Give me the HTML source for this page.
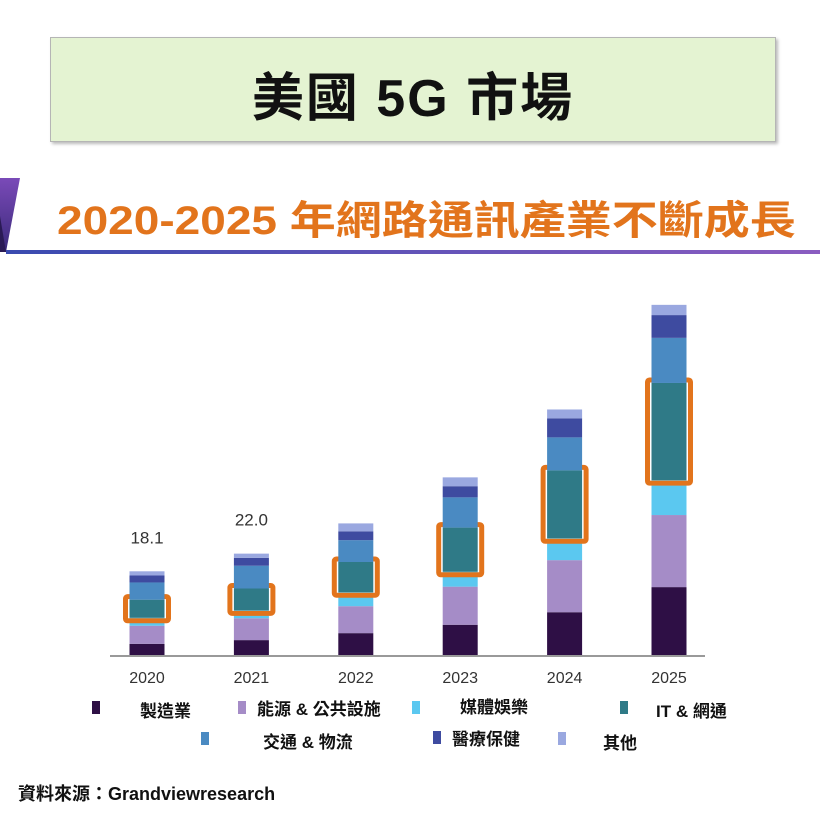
<!DOCTYPE html>
<html><head><meta charset="utf-8"><style>
body{margin:0;width:820px;height:820px;background:#fff;overflow:hidden;position:relative;font-family:"Liberation Sans","Noto Sans CJK TC",sans-serif}
.t{position:absolute;font-weight:bold;white-space:nowrap}
.lg{position:absolute;font-weight:bold;font-size:17px;color:#111;white-space:nowrap}
.sq{position:absolute;width:8px;height:13px}
</style></head><body>
<div style="position:absolute;left:50px;top:37px;width:724px;height:103px;background:#e4f3d2;border:1px solid #b5b5b5;box-shadow:2px 2px 3px #bbb"></div>
<div class="t" style="left:50px;width:726px;text-align:center;top:56px;font-size:52px;color:#111;letter-spacing:2px">美國 5G 市場</div>
<svg style="position:absolute;left:0;top:176px" width="820" height="82">
<defs><linearGradient id="g" x1="0" x2="1"><stop offset="0" stop-color="#3a4bb0"/><stop offset="1" stop-color="#8a5cc0"/></linearGradient>
<linearGradient id="p" x1="0" x2="0" y1="0" y2="1"><stop offset="0" stop-color="#7a4ab8"/><stop offset="1" stop-color="#3a2a7a"/></linearGradient></defs>
<polygon points="0,2 20,2 6,76 0,76" fill="url(#p)"/>
<polygon points="0,40 6,76 0,76" fill="#2a1a55"/>
<rect x="6" y="74" width="814" height="4" fill="url(#g)"/>
</svg>
<div class="t" style="left:57px;top:188px;font-size:40px;color:#e2741c;transform:scaleX(1.15);transform-origin:left center">2020-2025 年網路通訊產業不斷成長</div>
<svg id="chart" style="position:absolute;left:0;top:0" width="820" height="820"></svg>
<div class="sq" style="left:92px;top:701px;background:#2e0f45"></div>
<div class="lg" style="left:140px;top:697px">製造業</div>
<div class="sq" style="left:238px;top:701px;background:#a58cc7"></div>
<div class="lg" style="left:257px;top:695px">能源 &amp; 公共設施</div>
<div class="sq" style="left:412px;top:701px;background:#5bc8f0"></div>
<div class="lg" style="left:460px;top:693px">媒體娛樂</div>
<div class="sq" style="left:620px;top:701px;background:#2f7a87"></div>
<div class="lg" style="left:656px;top:697px">IT &amp; 網通</div>
<div class="sq" style="left:201px;top:732px;background:#4a8ac2"></div>
<div class="lg" style="left:263px;top:728px">交通 &amp; 物流</div>
<div class="sq" style="left:433px;top:731px;background:#3e4ba0"></div>
<div class="lg" style="left:452px;top:725px">醫療保健</div>
<div class="sq" style="left:558px;top:732px;background:#9aa8e0"></div>
<div class="lg" style="left:603px;top:729px">其他</div>
<div class="lg" style="left:18px;top:780px;font-size:18px">資料來源：Grandviewresearch</div>
<script>
const years=["2020","2021","2022","2023","2024","2025"];
const manufacturing=[2.4,3.2,4.7,6.5,9.2,14.6];
const energy=[3.9,4.7,5.8,8.2,11.2,15.5];
const media=[1.7,1.7,3.0,3.2,4.7,7.5];
const itNet=[3.9,4.7,6.5,9.5,14.6,20.9];
const transport=[3.7,4.9,4.7,6.5,7.1,9.7];
const health=[1.5,1.7,1.9,2.4,4.1,4.9];
const other=[0.9,0.9,1.7,1.9,1.9,2.2];
const totalLabels=["18.1","22.0","","","",""];
const series=[manufacturing,energy,media,itNet,transport,health,other];
const names=["manufacturing","energy","media","it","transport","health","other"];
const colors=["#2e0f45","#a58cc7","#5bc8f0","#2f7a87","#4a8ac2","#3e4ba0","#9aa8e0"];
const base=655,k=4.65,x0=147,step=104.4,bw=35;
const y=v=>base-v*k, xc=i=>x0+i*step;
const svg=document.getElementById('chart'),NS="http://www.w3.org/2000/svg";
function mk(t,a){const e=document.createElementNS(NS,t);for(const q in a)e.setAttribute(q,a[q]);svg.appendChild(e);return e;}
const ax=mk('line',{x1:110,x2:705,y1:base+1,y2:base+1,stroke:'#999','stroke-width':2});


years.forEach((yr,i)=>{
  let cum=0;
  series.forEach((s,j)=>{
    const r=mk('rect',{x:xc(i)-bw/2,y:y(cum+s[i]),width:bw,height:s[i]*k,fill:colors[j]});
    
    
    if(j===3){
      const b=mk('rect',{x:xc(i)-bw/2-4,y:y(cum+s[i])-3,width:bw+8,height:s[i]*k+6,fill:'none',stroke:'#e2741c','stroke-width':5,rx:2});
      
      
    }
    cum+=s[i];
  });
  const t=mk('text',{x:xc(i),y:base+28,'text-anchor':'middle','font-size':16,fill:'#333','font-family':'Liberation Sans Narrow, Liberation Sans, sans-serif'});
  t.textContent=yr;
  
  
  if(totalLabels[i]){
    const v=mk('text',{x:xc(i),y:y(cum)-28,'text-anchor':'middle','font-size':17,fill:'#333','font-family':'Liberation Sans Narrow, Liberation Sans, sans-serif'});
    v.textContent=totalLabels[i];
    
    
  }
});
</script>
</body></html>
